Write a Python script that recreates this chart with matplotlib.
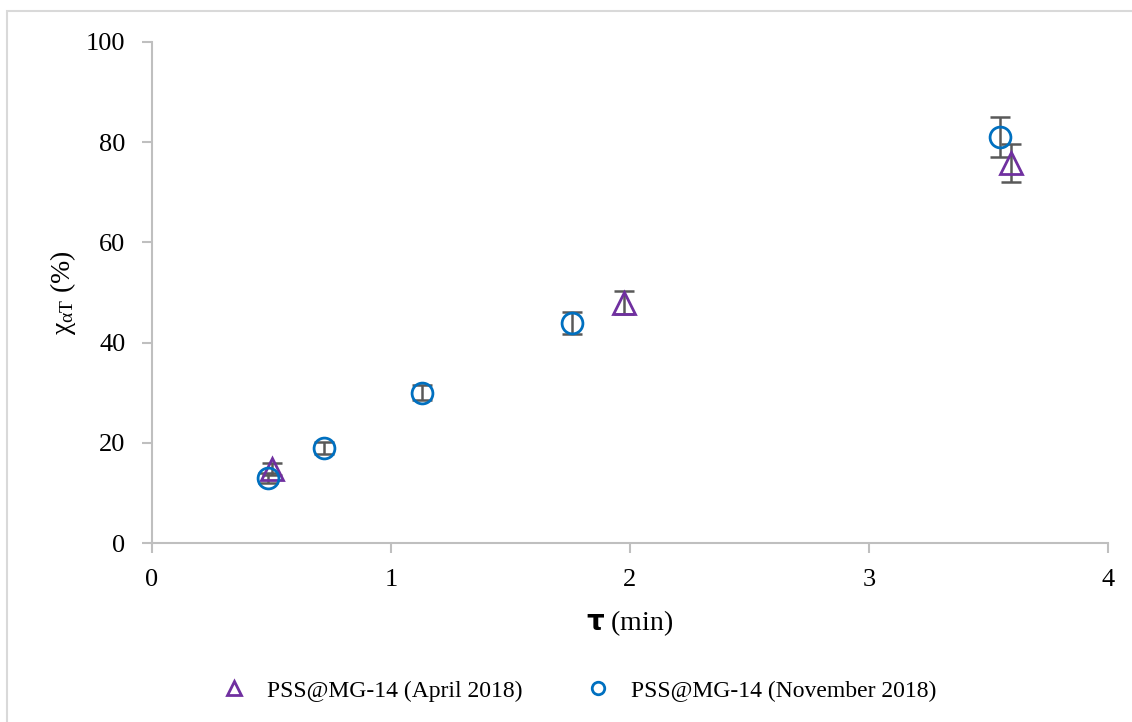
import matplotlib.pyplot as plt
from matplotlib.patches import Rectangle

# April 2018 batch
tau_apr = [0.50, 1.975, 3.595]
chi_apr = [14.8, 48.0, 75.8]
err_apr = [1.2, 2.3, 3.8]

# November 2018 batch
tau_nov = [0.485, 0.72, 1.13, 1.757, 3.55]
chi_nov = [13.0, 19.0, 30.0, 44.0, 81.0]
err_nov = [1.0, 1.2, 1.5, 2.2, 4.0]

plt.rcParams['font.family'] = ['Liberation Serif', 'DejaVu Serif']

fig = plt.figure(figsize=(11.32, 7.22), dpi=100)
ax = fig.add_axes([152/1132, 1 - 543/722, (1108-152)/1132, (543-42)/722])

# chart border
fig.patches.append(Rectangle((7/1132, -0.01), 1.02, 1 - 11/722 + 0.01,
                             transform=fig.transFigure, fill=False,
                             edgecolor='#d9d9d9', linewidth=1.5))

ax.errorbar(tau_apr, chi_apr, yerr=err_apr, fmt='none', ecolor='#595959',
            elinewidth=1.8, capsize=7, capthick=1.8, zorder=2)
ax.errorbar(tau_nov, chi_nov, yerr=err_nov, fmt='none', ecolor='#595959',
            elinewidth=1.8, capsize=7, capthick=1.8, zorder=2)
ax.plot(tau_apr, chi_apr, linestyle='none', marker='^', markersize=16,
        markerfacecolor='none', markeredgecolor='#7030a0', markeredgewidth=2,
        label='PSS@MG-14 (April 2018)', zorder=3)
ax.plot(tau_nov, chi_nov, linestyle='none', marker='o', markersize=15,
        markerfacecolor='none', markeredgecolor='#0070c0', markeredgewidth=2,
        label='PSS@MG-14 (November 2018)', zorder=3)

ax.set_xlim(0, 4)
ax.set_ylim(0, 100)
ax.set_xticks([0, 1, 2, 3, 4])
ax.set_yticks([0, 20, 40, 60, 80, 100])
for s in ['top', 'right']:
    ax.spines[s].set_visible(False)
for s in ['left', 'bottom']:
    ax.spines[s].set_color('#bfbfbf')
    ax.spines[s].set_linewidth(1.5)
ax.tick_params(axis='both', colors='#bfbfbf', length=7, width=1.5,
               labelcolor='black', labelsize=19)
ax.tick_params(axis='x', pad=12)
ax.tick_params(axis='y', pad=12)

ax.set_xlabel(r'$\mathbf{\tau}$ (min)', fontsize=20, labelpad=12)
ax.set_ylabel(r'$\mathregular{χ_{αT}}$ (%)', fontsize=20, labelpad=6)

leg = ax.legend(loc='center', bbox_to_anchor=(0.443, -0.295), ncol=2,
                frameon=False, fontsize=17, handletextpad=0.6,
                handlelength=1.6, columnspacing=2.4, markerscale=0.6)

fig.savefig('out.png', dpi=100)
